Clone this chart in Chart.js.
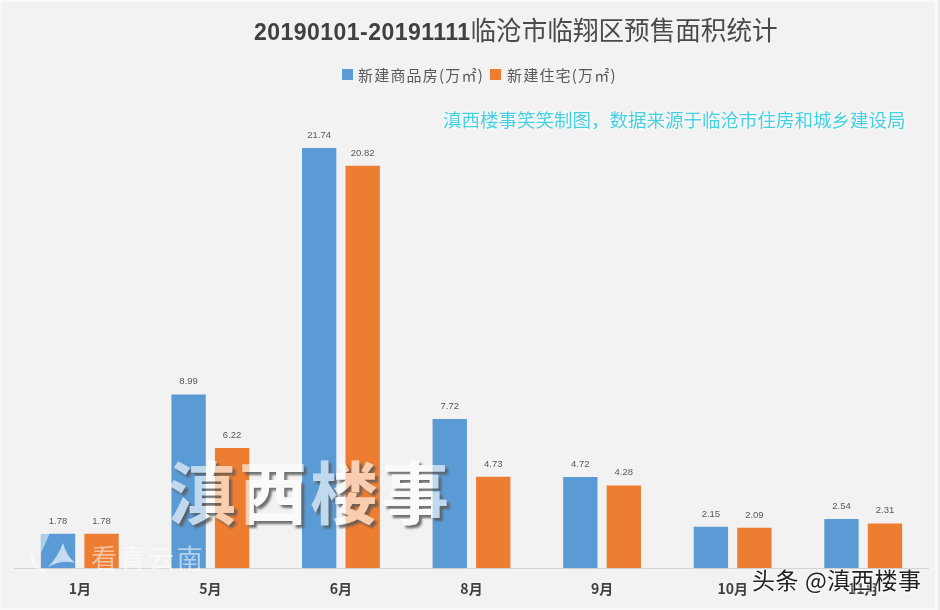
<!DOCTYPE html>
<html>
<head>
<meta charset="utf-8">
<script src="https://cdn.jsdelivr.net/npm/chart.js@4"></script>
<style>
  html, body { margin: 0; padding: 0; background: #f2f2f2; }
  #wrap { position: relative; width: 940px; height: 610px; overflow: hidden; background: #f2f2f2; font-family: "Noto Sans CJK SC", sans-serif; }
  #wrap canvas { position: absolute; left: 0; top: 0; }
  #frame { position: absolute; left: 0; top: 0; right: 0; bottom: 0; box-sizing: border-box; border: solid #f9f9f9; border-width: 2px 3px 2px 2px; margin-right: 2px; }
  #edge { position: absolute; right: 0; top: 0; bottom: 0; width: 2px; background: #ececec; }
  .txt { position: absolute; white-space: nowrap; }
  #title { left: 254px; top: 12px; font-size: 25.6px; line-height: 34px; color: #4a4a4a; }
  #title b { font-family: "Liberation Sans", sans-serif; font-size: 23px; letter-spacing: .47px; color: #404040; }
  .key { top: 69px; width: 11px; height: 11px; }
  .legendText { top: 64px; font-size: 15px; letter-spacing: 1.2px; line-height: 21px; color: #595959; }
  #note { left: 443px; top: 105px; font-size: 18.5px; line-height: 28px; color: #45d0e2; text-shadow: 0 0 3px #fff, 0 0 3px #fff; }
  #mark { left: 168px; top: 440px; font-size: 68px; line-height: 100px; font-weight: 700; letter-spacing: 3px; color: #fff; filter: url(#markShadow); }
  #kan { left: 91px; top: 536px; font-size: 26px; line-height: 42px; letter-spacing: 2.6px; color: rgba(255,255,255,.55); }
  #logo { position: absolute; left: 28px; top: 525px; }
  #toutiao { left: 752px; top: 561px; font-size: 23px; line-height: 36px; letter-spacing: .6px; color: #222; text-shadow: 0 0 2px #fff, 0 0 2px #fff, 1px 1px 2px #fff; }
</style>
</head>
<body>
<div id="wrap">
  <canvas id="chart" width="940" height="610"></canvas>
  <div id="frame"></div>
  <div id="edge"></div>
  <div class="txt" id="title"><b>20190101-20191111</b>临沧市临翔区预售面积统计</div>
  <div class="txt key" style="left:342px;background:#5b9bd5"></div>
  <div class="txt legendText" style="left:358px">新建商品房(万㎡)</div>
  <div class="txt key" style="left:490px;background:#ed7d31"></div>
  <div class="txt legendText" style="left:507px">新建住宅(万㎡)</div>
  <div class="txt" id="note">滇西楼事笑笑制图，数据来源于临沧市住房和城乡建设局</div>
  <svg width="0" height="0" style="position:absolute">
    <filter id="markShadow" x="-5%" y="-5%" width="110%" height="115%">
      <feOffset in="SourceAlpha" dx="3" dy="3" result="off"/>
      <feGaussianBlur in="off" stdDeviation="1" result="blur"/>
      <feFlood flood-color="#5a5a5a" flood-opacity=".85"/>
      <feComposite in2="blur" operator="in" result="shadow"/>
      <feComposite in="shadow" in2="SourceAlpha" operator="out" result="cut"/>
      <feColorMatrix in="SourceGraphic" type="matrix" values="1 0 0 0 0 0 1 0 0 0 0 0 1 0 0 0 0 0 .62 0" result="fill"/>
      <feMerge><feMergeNode in="cut"/><feMergeNode in="fill"/></feMerge>
    </filter>
  </svg>
  <svg id="logo" width="60" height="50" viewBox="0 0 60 50">
    <path d="M13 8 H22 L13 28 Z" fill="rgba(255,255,255,.5)"/>
    <path d="M20 42 Q30 32 35 18 Q38 30 47 38 Q34 34 20 42 Z" fill="rgba(255,255,255,.65)"/>
    <path d="M4 30 Q5 44 18 47" fill="none" stroke="rgba(255,255,255,.5)" stroke-width="3"/>
  </svg>
  <div class="txt" id="kan">看青云南</div>
  <div class="txt" id="mark">滇西楼事</div>
  <div class="txt" id="toutiao">头条 @滇西楼事</div>
</div>
<script>
const months = ["1月", "5月", "6月", "8月", "9月", "10月", "11月"];
const shangpinfang = [1.78, 8.99, 21.74, 7.72, 4.72, 2.15, 2.54];
const zhuzhai = [1.78, 6.22, 20.82, 4.73, 4.28, 2.09, 2.31];
const seriesNames = ["新建商品房(万㎡)", "新建住宅(万㎡)"];

// draws the small value above each bar
const barLabels = {
  id: "barLabels",
  afterDatasetsDraw(chart) {
    const ctx = chart.ctx;
    ctx.save();
    ctx.font = '9.5px "Liberation Sans", sans-serif';
    ctx.fillStyle = "#595959";
    ctx.textAlign = "center";
    ctx.textBaseline = "bottom";
    chart.data.datasets.forEach((ds, i) => {
      chart.getDatasetMeta(i).data.forEach((bar, j) => {
        ctx.fillText(ds.data[j].toFixed(2), bar.x, bar.y - 8);
      });
    });
    ctx.restore();
  },
};

new Chart(document.getElementById("chart"), {
  type: "bar",
  data: {
    labels: months,
    datasets: [
      { label: seriesNames[0], data: shangpinfang, backgroundColor: "#5b9bd5" },
      { label: seriesNames[1], data: zhuzhai, backgroundColor: "#ed7d31" },
    ],
  },
  options: {
    responsive: false,
    animation: false,
    layout: { padding: { left: 14.5, right: 11.5, top: 0, bottom: 0 } },
    categoryPercentage: 0.666,
    barPercentage: 0.79,
    plugins: { legend: { display: false }, title: { display: false }, tooltip: { enabled: false } },
    scales: {
      x: {
        grid: { display: false, drawTicks: false },
        border: { color: "#d4d4d4", width: 1 },
        ticks: { color: "#404040", padding: 12.5, font: { size: 14, weight: "bold", family: '"Noto Sans CJK SC", sans-serif' } },
      },
      y: { display: false, min: 0, max: 29.4 },
    },
  },
  plugins: [barLabels],
});
</script>
</body>
</html>
